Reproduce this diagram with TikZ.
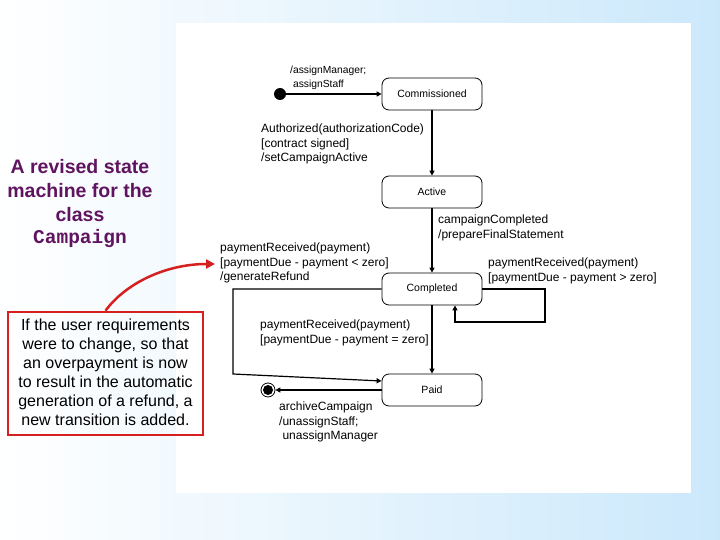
\documentclass[tikz,border=0pt]{standalone}
\usepackage{fontspec}
\setmainfont{Liberation Sans}
\newfontfamily\monob{Liberation Mono}
\usetikzlibrary{arrows.meta,calc}
\definecolor{bgblue}{RGB}{203,232,251}
\definecolor{ttl}{RGB}{96,20,96}
\definecolor{nred}{RGB}{214,32,32}
\begin{document}
\begin{tikzpicture}[x=1pt,y=-1pt,
  state/.style={draw, rounded corners=7pt, minimum width=100pt, minimum height=32pt,
    line width=0.8pt, inner sep=0, font=\fontsize{10.5}{12}\selectfont},
  lbl/.style={anchor=north west, inner sep=0, align=left, font=\fontsize{12}{14.5}\selectfont},
  slbl/.style={anchor=north west, inner sep=0, align=left, font=\fontsize{10.3}{14}\selectfont},
  tr/.style={line width=1.6pt, -{Triangle[length=5pt,width=5pt]}},
]
\useasboundingbox (0,0) rectangle (720,540);
\shade[left color=white, right color=bgblue] (0,0) rectangle (720,540);
\fill[white] (176,23) rectangle (691,493);

% states
\node[state] (com) at (432,94) {Commissioned};
\node[state] (act) at (432,192) {Active};
\node[state] (cmp) at (432,289) {Completed};
\node[state] (paid) at (432,390) {Paid};
\node[circle, fill, minimum size=12pt, inner sep=0] (init) at (280,94) {};
\node[circle, draw, minimum size=14pt, inner sep=0, line width=0.8pt] (fin) at (268,390) {};
\fill (fin.center) circle (5pt);

% transitions
\draw[tr] (init) -- (com);
\draw[tr] (com) -- (act);
\draw[tr] (act) -- (cmp);
\draw[tr] (cmp) -- (paid);
\draw[tr] (cmp.east) -- (545,289) -- (545,322) -- (455,322) -- ($(cmp.south)+(23,0)$);
\draw[line width=1.2pt, -{Triangle[length=5pt,width=5pt]}] (cmp.west) -- (233,289) -- (233,374) -- ($(paid.west)+(0,-9)$);
\draw[tr] (paid.west) -- (fin);

% labels
\node[slbl] (l0) at (290,66) {/assignManager;\\ \ assignStaff};
\node[lbl] (l1) at (261,124) {Authorized(authorizationCode)\\{[}contract signed{]}\\/setCampaignActive};
\node[lbl] (l2) at (438,215) {campaignCompleted\\/prepareFinalStatement};
\node[lbl] (l3) at (220,243) {paymentReceived(payment)\\{[}paymentDue - payment < zero{]}\\/generateRefund};
\node[lbl] (l4) at (488,258) {paymentReceived(payment)\\{[}paymentDue - payment > zero{]}};
\node[lbl] (l5) at (260,320) {paymentReceived(payment)\\{[}paymentDue - payment = zero{]}};
\node[lbl] (l6) at (279,402) {archiveCampaign\\/unassignStaff;\\ \ unassignManager};

% left side
\node[align=center, text=ttl, font=\fontsize{19.5}{24}\selectfont\bfseries] (title) at (80,191) {A revised state\\machine for the\\class};
\node[text=ttl, font=\fontsize{19.5}{24}\selectfont\monob\bfseries] (cls) at (80,239) {Campaign};

\node[draw=nred, line width=2.6pt, minimum width=195pt, minimum height=123pt, inner sep=0,
  align=center, font=\fontsize{16}{19}\selectfont] (note) at (105.5,373.5)
  {If the user requirements\\were to change, so that\\an overpayment is now\\to result in the automatic\\generation of a refund, a\\new transition is added.\rule[-3pt]{0pt}{1pt}};
\coordinate (refend) at (215,264);
\draw[nred, line width=2.5pt, -{Triangle[length=9pt,width=9pt]}] (note.north) .. controls (125,284) and (165,264) .. (refend);
\end{tikzpicture}
\end{document}
